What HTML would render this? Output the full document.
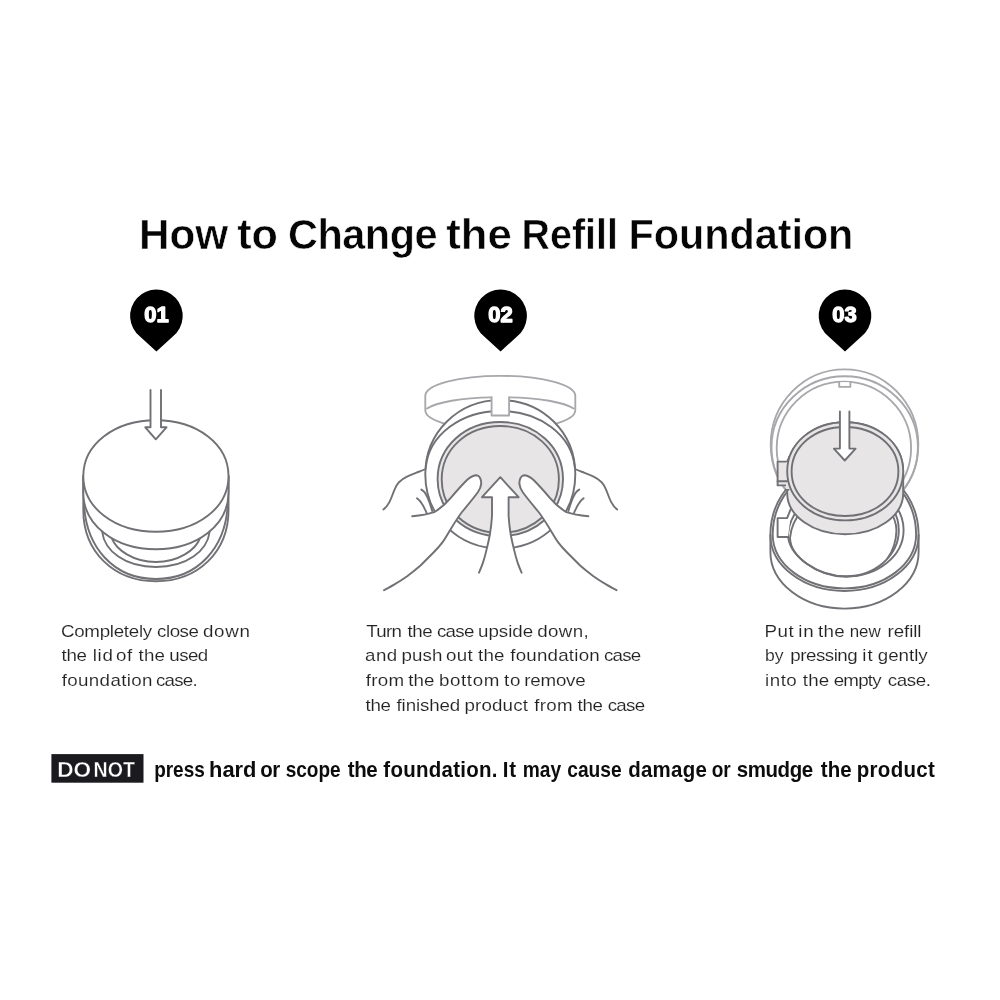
<!DOCTYPE html>
<html lang="en">
<head>
<meta charset="utf-8">
<title>How to Change the Refill Foundation</title>
<style>
html,body{margin:0;padding:0;background:#fff;}
body{width:1000px;height:1000px;overflow:hidden;position:relative;font-family:"Liberation Sans",sans-serif;}
svg{position:absolute;left:0;top:0;display:block;will-change:transform;}
text{font-family:"Liberation Sans",sans-serif;}
.title{font-weight:700;font-size:42.8px;fill:#050505;stroke:#fff;stroke-width:0.55px;}
.body{font-weight:400;font-size:16.8px;fill:#222;stroke:#fff;stroke-width:0.12px;}
.warn{font-weight:700;font-size:21.8px;fill:#0c0c0c;}
.dn{font-weight:700;font-size:21.5px;fill:#fff;stroke:#1b1b1f;stroke-width:0.4px;}
.num{font-weight:700;font-size:22px;fill:#fff;stroke:#fff;stroke-width:1.3px;stroke-linejoin:round;}
.ln{fill:none;stroke:#707075;stroke-width:1.9;stroke-linecap:round;stroke-linejoin:round;}
.lw{fill:#fff;stroke:#707075;stroke-width:1.9;stroke-linecap:round;stroke-linejoin:round;}
.lg{fill:none;stroke:#a8a8ac;stroke-width:1.85;stroke-linecap:round;stroke-linejoin:round;}
.lgw{fill:#fff;stroke:#a8a8ac;stroke-width:1.85;stroke-linecap:round;stroke-linejoin:round;}
.fg{fill:#e7e5e6;stroke:#707075;stroke-width:1.9;stroke-linejoin:round;}
</style>
</head>
<body>
<svg width="1000" height="1000" viewBox="0 0 1000 1000">
<rect width="1000" height="1000" fill="#fff"/>


<!-- TITLE -->
<text class="title" transform="scale(0.968 1)" y="249"><tspan x="143.6" textLength="92.21" lengthAdjust="spacingAndGlyphs">How</tspan> <tspan x="245.09" textLength="42.05" lengthAdjust="spacingAndGlyphs">to</tspan> <tspan x="297.52" textLength="154.54" lengthAdjust="spacing">Change</tspan> <tspan x="461" textLength="67.68" lengthAdjust="spacingAndGlyphs">the</tspan> <tspan x="538.74" textLength="99.66" lengthAdjust="spacingAndGlyphs">Refill</tspan> <tspan x="649.28" textLength="232.38" lengthAdjust="spacing">Foundation</tspan></text>

<!-- PINS -->
<g id="pins">
<path d="M156.4,351.5 L140.0,336.4 A26.3,26.3 0 1 1 172.8,336.4 Z" fill="#000"/>
<text class="num" x="156.6" y="322.4" text-anchor="middle">01</text>
<path d="M500.6,351.5 L484.2,336.4 A26.3,26.3 0 1 1 517.0,336.4 Z" fill="#000"/>
<text class="num" x="500.4" y="322.4" text-anchor="middle">02</text>
<path d="M845.0,351.5 L828.6,336.4 A26.3,26.3 0 1 1 861.4,336.4 Z" fill="#000"/>
<text class="num" x="844.4" y="322.4" text-anchor="middle">03</text>
</g>

<!-- ILLUSTRATION 1 -->
<g id="ill1">
<path class="lw" d="M83.3,476 V510 C83.3,552 114,581.3 155.9,581.3 C197.8,581.3 228.5,552 228.5,510 V476"/>
<path class="ln" d="M83.9,500 C84.6,548 114.5,579 155.9,579 C197.3,579 227.2,548 227.9,500"/>
<path class="ln" d="M100.6,524 L102.1,531.5 C104.5,551 125,567 155.9,567 C186.8,567 207.3,551 209.7,531.5 L211.2,524"/>
<path class="ln" d="M109.5,532 L112,538.7 C116,549.5 133,562 155.9,562 C178.8,562 195.8,549.5 199.8,538.7 L202.3,532"/>
<path class="lw" d="M83.3,476 V492.5 C83.3,524.9 114.5,549.3 155.9,549.3 C197.3,549.3 228.5,524.9 228.5,492.5 V476"/>
<path class="lw" d="M83.3,476 C83.3,444.2 114.5,420.2 155.9,420.2 C197.3,420.2 228.5,444.2 228.5,476 C228.5,507.8 197.3,531.8 155.9,531.8 C114.5,531.8 83.3,507.8 83.3,476Z"/>
<path class="lw" d="M150.5,390 V427.3 H145.3 L155.8,439.3 L166.5,427.3 H161 V390"/>
</g>

<!-- ILLUSTRATION 2 -->
<g id="ill2">
<path class="lgw" d="M425.3,396 C425.3,384.8 458.9,375.8 500.3,375.8 C541.7,375.8 575.3,384.8 575.3,396 V410.3 C575.3,421.3 541.7,430.3 500.3,430.3 C458.9,430.3 425.3,421.3 425.3,410.3 Z"/>
<path class="lg" d="M427,408.5 C436,402.5 462,397.6 491.6,397.3 M573.6,408.5 C564.6,402.5 538.6,397.6 509.1,397.3"/>
<path class="lw" d="M425.3,474.3 C425.3,432.4 457.9,400.1 500.3,400.1 C542.7,400.1 575.3,432.4 575.3,474.3 C575.3,516.2 542.7,548.5 500.3,548.5 C457.9,548.5 425.3,516.2 425.3,474.3Z"/>
<path class="ln" d="M425.8,467.5 C428.8,435 461,411 500.3,411 C539.6,411 571.8,435 574.8,467.5"/>
<path class="lgw" d="M491.6,397.3 V415.5 H509.1 V397.3"/>
<path class="fg" d="M437.6,479.1 C437.6,446.8 464.9,422 500.3,422 C535.7,422 563,446.8 563,479.1 C563,511.4 535.7,536.2 500.3,536.2 C464.9,536.2 437.6,511.4 437.6,479.1Z"/>
<path class="ln" d="M441.7,479.4 C441.7,449.2 467.2,426 500.3,426 C533.4,426 558.9,449.2 558.9,479.4 C558.9,509.6 533.4,532.8 500.3,532.8 C467.2,532.8 441.7,509.6 441.7,479.4Z"/>
<path d="M412.2,516.2 C420,515.6 428,514.4 434.2,512.2 C440.3,508.5 446,503.5 451,497.6 C457,490.5 462,485 467,480 C470.3,477 473.4,475.2 476.6,475.2 C479.6,475.4 481.4,479.5 481.2,484 C480.8,487 479.6,489.6 478,492 C474,497.5 470,502.4 462,512 C458,517 452,527 449.1,531.7 C446,537 444.5,539.5 442.6,542.1 C439,547 436,550 433.5,552.5 C428,558 424,562 420.5,565.5 C416,569.5 411,573.3 407.5,575.9 C402,579.8 398,582.3 394.5,584.4 C390,587 387,588.7 384.1,590.2 L380,560 L405,520 Z" fill="#fff" stroke="none"/>
<path class="ln" d="M412.2,516.2 C420,515.6 428,514.4 434.2,512.2 C440.3,508.5 446,503.5 451,497.6 C457,490.5 462,485 467,480 C470.3,477 473.4,475.2 476.6,475.2 C479.6,475.4 481.4,479.5 481.2,484 C480.8,487 479.6,489.6 478,492 C474,497.5 470,502.4 462,512 C458,517 452,527 449.1,531.7 C446,537 444.5,539.5 442.6,542.1 C439,547 436,550 433.5,552.5 C428,558 424,562 420.5,565.5 C416,569.5 411,573.3 407.5,575.9 C402,579.8 398,582.3 394.5,584.4 C390,587 387,588.7 384.1,590.2"/>
<path class="ln" d="M383.4,509.4 C386,507.5 388,505 389.4,502.2 C391.5,498 393,493 395,488.6 C396.2,486 397.5,484 399,482.2 C401.5,479.8 404,478 407,476.6 C410,475.2 413,474 416.6,472.6 C420,471.3 423,470.2 425.6,469"/>
<path class="ln" d="M421.4,489.6 C423,490.6 424.3,491.8 425.4,493.4 C427,496 428.4,499 429.4,502.2 C430.5,505.2 431.4,508 432.2,511"/>
<path class="ln" d="M417,498.2 C418.8,499.5 420.2,501 421.4,503 C422.7,504.8 423.7,506.6 424.6,508.6 C425.4,510 426,511.5 426.6,513"/>
<path d="M588.4 516.2C580.6 515.6 572.6 514.4 566.4 512.2C560.3 508.5 554.6 503.5 549.6 497.6C543.6 490.5 538.6 485 533.6 480C530.3 477 527.2 475.2 524 475.2C521 475.4 519.2 479.5 519.4 484C519.8 487 521 489.6 522.6 492C526.6 497.5 530.6 502.4 538.6 512C542.6 517 548.6 527 551.5 531.7C554.6 537 556.1 539.5 558 542.1C561.6 547 564.6 550 567.1 552.5C572.6 558 576.6 562 580.1 565.5C584.6 569.5 589.6 573.3 593.1 575.9C598.6 579.8 602.6 582.3 606.1 584.4C610.6 587 613.6 588.7 616.5 590.2L620.6 560L595.6 520Z" fill="#fff" stroke="none"/>
<path class="ln" d="M588.4 516.2C580.6 515.6 572.6 514.4 566.4 512.2C560.3 508.5 554.6 503.5 549.6 497.6C543.6 490.5 538.6 485 533.6 480C530.3 477 527.2 475.2 524 475.2C521 475.4 519.2 479.5 519.4 484C519.8 487 521 489.6 522.6 492C526.6 497.5 530.6 502.4 538.6 512C542.6 517 548.6 527 551.5 531.7C554.6 537 556.1 539.5 558 542.1C561.6 547 564.6 550 567.1 552.5C572.6 558 576.6 562 580.1 565.5C584.6 569.5 589.6 573.3 593.1 575.9C598.6 579.8 602.6 582.3 606.1 584.4C610.6 587 613.6 588.7 616.5 590.2"/>
<path class="ln" d="M617.2 509.4C614.6 507.5 612.6 505 611.2 502.2C609.1 498 607.6 493 605.6 488.6C604.4 486 603.1 484 601.6 482.2C599.1 479.8 596.6 478 593.6 476.6C590.6 475.2 587.6 474 584 472.6C580.6 471.3 577.6 470.2 575 469"/>
<path class="ln" d="M579.2 489.6C577.6 490.6 576.3 491.8 575.2 493.4C573.6 496 572.2 499 571.2 502.2C570.1 505.2 569.2 508 568.4 511"/>
<path class="ln" d="M583.6 498.2C581.8 499.5 580.4 501 579.2 503C577.9 504.8 576.9 506.6 576 508.6C575.2 510 574.6 511.5 574 513"/>
<path class="lw" d="M479,572.7 C481,568 482,565.5 482.9,562.9 C484.5,558 485.8,553 486.8,548.6 C488,543.5 489.3,538.5 490.1,533 C491,527.5 491.6,522 492,516 V497.2 H482 L500.3,477.2 L518.6,497.2 H508.6 V516 C509 522 509.6 527.5 510.5 533C511.3 538.5 512.6 543.5 513.8 548.6C514.8 553 516.1 558 517.7 562.9C518.6 565.5 519.6 568 521.6 572.7"/>
</g>

<!-- ILLUSTRATION 3 -->
<g id="ill3">
<path class="lgw" d="M770.7,444.6 C770.7,403.1 803.7,369.4 844.5,369.4 C885.3,369.4 918.3,403.1 918.3,444.6 C918.3,486.1 885.3,519.8 844.5,519.8 C803.7,519.8 770.7,486.1 770.7,444.6Z"/>
<path class="lg" d="M771.5,447.2 C771.5,408 804.3,376.2 844.7,376.2 C885.1,376.2 917.9,408 917.9,447.2 C917.9,486.4 885.1,518.2 844.7,518.2 C804.3,518.2 771.5,486.4 771.5,447.2Z"/>
<path class="lg" d="M776.7,448 C776.7,411.3 806.8,381.6 843.9,381.6 C881,381.6 911.1,411.3 911.1,448 C911.1,484.7 881,514.4 843.9,514.4 C806.8,514.4 776.7,484.7 776.7,448Z"/>
<path class="lgw" d="M839.2,382.2 V386.8 H850.4 V382.2"/>
<path class="lw" d="M770.4,535 C770.4,494.1 803.6,461 844.5,461 C885.4,461 918.6,494.1 918.6,535 V552 C918.6,583.3 885.4,608.6 844.5,608.6 C803.6,608.6 770.4,583.3 770.4,552 Z"/>
<path class="ln" d="M772.7,534.5 C772.9,495.1 805,463.1 844.5,463.1 C884,463.1 916.1,495.1 916.1,534.5 C916.3,564.3 884.2,588.4 844.5,588.4 C804.8,588.4 772.7,564.3 772.7,534.5"/>
<path class="ln" d="M770.4,535 C770.4,565.9 803.6,591 844.5,591 C885.4,591 918.6,565.9 918.6,535"/>
<path class="ln" d="M788,534 C788,555 816.5,576.7 846,576.7 C877.7,576.7 903.6,556 903.6,530 C903.6,504 877.7,483.3 846,483.3 C815,483.3 790,511 788,534Z"/>
<path class="ln" d="M790,538 C790.5,557 818,576.2 846,576.2 C875,576.2 898.8,555.5 898.8,530.3 C898.8,505 875,484.3 846,484.3 C817,486 791.5,516 790,538Z"/>
<path class="ln" d="M888,508 C893.5,515.5 896.6,523 896.4,531 C896.2,541 893,550.5 887.6,558.3"/>
<path class="lw" d="M792,506 L787.1,518.1 H777.6 V537 H788"/>
<path class="fg" d="M787.2,471.3 C787.2,444.2 813.2,422.2 845.2,422.2 C877.2,422.2 903.2,444.2 903.2,471.3 V493.2 C903.2,515.9 877.2,534.3 845.2,534.3 C813.2,534.3 787.2,515.9 787.2,493.2 Z"/>
<path class="fg" d="M789.5,456.5 L787.2,461.6 H777.6 V485.4 H787.3 L788,490 L795,480 Z"/>
<path d="M786,462.5 H796 V489 H786 Z" fill="#e7e5e6" stroke="none"/>
<path class="ln" d="M777.6,481.2 H787.2"/>
<path class="fg" d="M787.2,471.3 C787.2,443.6 812.4,422.2 845.2,422.2 C878,422.2 903.2,443.6 903.2,471.3 C903.2,499 878,520.4 845.2,520.4 C812.4,520.4 787.2,499 787.2,471.3Z"/>
<path class="ln" d="M791.6,471.5 C791.6,446.4 814.8,427 845,427 C875.2,427 898.4,446.4 898.4,471.5 C898.4,496.6 875.2,516 845,516 C814.8,516 791.6,496.6 791.6,471.5Z"/>
<path class="lw" d="M839.9,411.5 V448.6 H833.9 L844.75,460.5 L855.6,448.6 H849.4 V411.5"/>
</g>

<!-- BODY TEXT -->
<g id="t1">
<text class="body" transform="scale(1.115 1)" y="637"><tspan x="54.71" textLength="81.75" lengthAdjust="spacing">Completely</tspan> <tspan x="140.81" textLength="37.63" lengthAdjust="spacing">close</tspan> <tspan x="182.06" textLength="42.07" lengthAdjust="spacing">down</tspan></text>
<text class="body" transform="scale(1.115 1)" y="661.3"><tspan x="55.16" textLength="22.89" lengthAdjust="spacing">the</tspan> <tspan x="83.18" textLength="18.02" lengthAdjust="spacing">lid</tspan> <tspan x="104.04" textLength="14.46" lengthAdjust="spacing">of</tspan> <tspan x="124.22" textLength="23.79" lengthAdjust="spacing">the</tspan> <tspan x="151.88" textLength="34.93" lengthAdjust="spacing">used</tspan></text>
<text class="body" transform="scale(1.115 1)" y="685.8"><tspan x="55.38" textLength="81.35" lengthAdjust="spacing">foundation</tspan> <tspan x="139.91" textLength="37.44" lengthAdjust="spacing">case.</tspan></text>
</g>
<g id="t2">
<text class="body" transform="scale(1.115 1)" y="637"><tspan x="328.48" textLength="31.89" lengthAdjust="spacing">Turn</tspan> <tspan x="365.47" textLength="22.49" lengthAdjust="spacing">the</tspan> <tspan x="391.93" textLength="33.45" lengthAdjust="spacing">case</tspan> <tspan x="428.7" textLength="49.48" lengthAdjust="spacing">upside</tspan> <tspan x="481.84" textLength="46.15" lengthAdjust="spacing">down,</tspan></text>
<text class="body" transform="scale(1.115 1)" y="661.3"><tspan x="327.35" textLength="28.91" lengthAdjust="spacing">and</tspan> <tspan x="360.09" textLength="36.64" lengthAdjust="spacing">push</tspan> <tspan x="400" textLength="24.01" lengthAdjust="spacing">out</tspan> <tspan x="428.7" textLength="23.79" lengthAdjust="spacing">the</tspan> <tspan x="457.62" textLength="80.22" lengthAdjust="spacing">foundation</tspan> <tspan x="541.7" textLength="33.45" lengthAdjust="spacing">case</tspan></text>
<text class="body" transform="scale(1.115 1)" y="685.8"><tspan x="328.03" textLength="34.48" lengthAdjust="spacing">from</tspan> <tspan x="366.14" textLength="23.56" lengthAdjust="spacing">the</tspan> <tspan x="393.72" textLength="54.03" lengthAdjust="spacing">bottom</tspan> <tspan x="452.11" textLength="14.55" lengthAdjust="spacing">to</tspan> <tspan x="470.18" textLength="55.09" lengthAdjust="spacing">remove</tspan></text>
<text class="body" transform="scale(1.115 1)" y="710.6"><tspan x="327.8" textLength="22.89" lengthAdjust="spacing">the</tspan> <tspan x="355.61" textLength="57.21" lengthAdjust="spacing">finished</tspan> <tspan x="416.59" textLength="56.9" lengthAdjust="spacing">product</tspan> <tspan x="479.15" textLength="34.48" lengthAdjust="spacing">from</tspan> <tspan x="517.94" textLength="22.89" lengthAdjust="spacing">the</tspan> <tspan x="545.07" textLength="33.45" lengthAdjust="spacing">case</tspan></text>
</g>
<g id="t3">
<text class="body" transform="scale(1.115 1)" y="637"><tspan x="685.7" textLength="26.11" lengthAdjust="spacing">Put</tspan> <tspan x="716.01" textLength="13.65" lengthAdjust="spacing">in</tspan> <tspan x="733.63" textLength="23.83" lengthAdjust="spacing">the</tspan> <tspan x="762.02" textLength="27.82" lengthAdjust="spacingAndGlyphs">new</tspan> <tspan x="795.92" textLength="30.57" lengthAdjust="spacing">refill</tspan></text>
<text class="body" transform="scale(1.115 1)" y="661.3"><tspan x="686.14" textLength="16.67" lengthAdjust="spacingAndGlyphs">by</tspan> <tspan x="708.74" textLength="60.51" lengthAdjust="spacing">pressing</tspan> <tspan x="773.32" textLength="9.39" lengthAdjust="spacing">it</tspan> <tspan x="787.26" textLength="44.72" lengthAdjust="spacing">gently</tspan></text>
<text class="body" transform="scale(1.115 1)" y="685.8"><tspan x="686.14" textLength="28.46" lengthAdjust="spacing">into</tspan> <tspan x="719.91" textLength="23.83" lengthAdjust="spacing">the</tspan> <tspan x="747.71" textLength="42.99" lengthAdjust="spacing">empty</tspan> <tspan x="796.14" textLength="38.78" lengthAdjust="spacing">case.</tspan></text>
</g>

<!-- WARNING -->
<g id="warn">
<rect x="51.4" y="754.1" width="92.1" height="28.6" fill="#1b1b1f"/>
<text class="dn" transform="scale(0.975 1)" y="776.6"><tspan x="58.72" textLength="34.75" lengthAdjust="spacingAndGlyphs">DO</tspan> <tspan x="95.9" textLength="42.41" lengthAdjust="spacingAndGlyphs">NOT</tspan></text>
<text class="warn" transform="scale(0.939 1)" y="776.6"><tspan x="164.16" textLength="53.86" lengthAdjust="spacingAndGlyphs">press</tspan> <tspan x="222.68" textLength="50.44" lengthAdjust="spacingAndGlyphs">hard</tspan> <tspan x="277.16" textLength="21.25" lengthAdjust="spacing">or</tspan> <tspan x="304.21" textLength="58.48" lengthAdjust="spacingAndGlyphs">scope</tspan> <tspan x="370.34" textLength="31.87" lengthAdjust="spacing">the</tspan> <tspan x="408.25" textLength="121.58" lengthAdjust="spacing">foundation.</tspan> <tspan x="535.41" textLength="14.31" lengthAdjust="spacing">It</tspan> <tspan x="556.71" textLength="40.83" lengthAdjust="spacingAndGlyphs">may</tspan> <tspan x="604.1" textLength="57.93" lengthAdjust="spacingAndGlyphs">cause</tspan> <tspan x="669.06" textLength="83.65" lengthAdjust="spacing">damage</tspan> <tspan x="757.88" textLength="20.27" lengthAdjust="spacingAndGlyphs">or</tspan> <tspan x="784.5" textLength="81.54" lengthAdjust="spacing">smudge</tspan> <tspan x="874.07" textLength="32.93" lengthAdjust="spacing">the</tspan> <tspan x="912.41" textLength="83.19" lengthAdjust="spacing">product</tspan></text>
</g>
</svg>
</body>
</html>
